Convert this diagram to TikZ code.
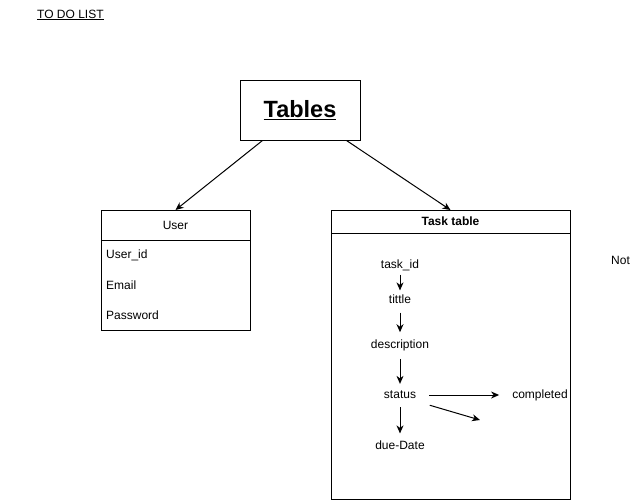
\documentclass[tikz,border=0pt]{standalone}
\usepackage{fontspec}
\setmainfont{Liberation Sans}
\usetikzlibrary{arrows.meta,positioning}

\begin{document}
\begin{tikzpicture}[x=1pt,y=-1pt,>={Stealth[length=8pt,width=7pt,inset=2.5pt]}]
\tikzstyle{title} = [rectangle, draw, line width=1pt, minimum width=120pt, minimum height=60pt,
font=\fontsize{23.5}{28}\selectfont\bfseries]
\tikzstyle{tablehead} = [rectangle, draw, line width=1pt, inner sep=0pt, outer sep=0pt, font=\fontsize{12}{14}\selectfont]
\tikzstyle{tablebody} = [rectangle, draw, line width=1pt, inner sep=0pt, outer sep=0pt]
\tikzstyle{field} = [font=\fontsize{12}{14}\selectfont, inner sep=3pt]
\tikzstyle{line} = [draw, line width=1pt, ->];
\useasboundingbox (0,0) rectangle (641,501);

\node [font=\fontsize{12}{14}\selectfont, anchor=west, inner sep=0pt] (todo) at (37,15) {\underline{TO DO LIST}};
\node [title] (tables) at (300,110) {\underline{Tables}};

% user table
\node [tablehead, minimum width=149pt, minimum height=30pt] (user) at (175.5,225) {User};
\node [tablebody, minimum width=149pt, minimum height=90pt, below=0pt of user] (userbody) {};
\node [field, anchor=west] (userid) at (103,255) {User\_id};
\node [field, anchor=west] (email) at (103,285) {Email};
\node [field, anchor=west] (password) at (103,315) {Password};

% task table
\node [tablehead, font=\fontsize{12}{14}\selectfont\bfseries, minimum width=239pt, minimum height=23pt] (task) at (450.5,221.5) {Task table};
\node [tablebody, minimum width=239pt, minimum height=266pt, below=0pt of task] (taskbody) {};
\node [field] (taskid) at (400,265) {task\_id};
\node [field] (tittle) at (400,299) {tittle};
\node [field] (description) at (400,345) {description};
\node [field] (status) at (400,395) {status};
\node [field] (duedate) at (400,445) {due-Date};
\node [field] (completed) at (540,395) {completed};
\coordinate (statusend) at (480,420);

\node [field, anchor=west, inner sep=0pt] (not) at (611,260) {Not};

\path [line] (tables.south west) ++(23,0) coordinate (tl) (tl) -- (user.north);
\path [line] (tables.south east) ++(-14,0) coordinate (tr) (tr) -- (task.north);
\path [line, shorten <=1pt, shorten >=1pt] (taskid) -- (tittle);
\path [line, shorten <=6pt, shorten >=4pt] (tittle) -- (description);
\path [line, shorten <=5pt, shorten >=4pt] (description) -- (status);
\path [line, shorten <=10pt, shorten >=10pt] (status) -- (completed);
\path [line, shorten <=11pt] (status.south east) -- (statusend);
\path [line, shorten <=5pt, shorten >=4pt] (status) -- (duedate);
\end{tikzpicture}
\end{document}
